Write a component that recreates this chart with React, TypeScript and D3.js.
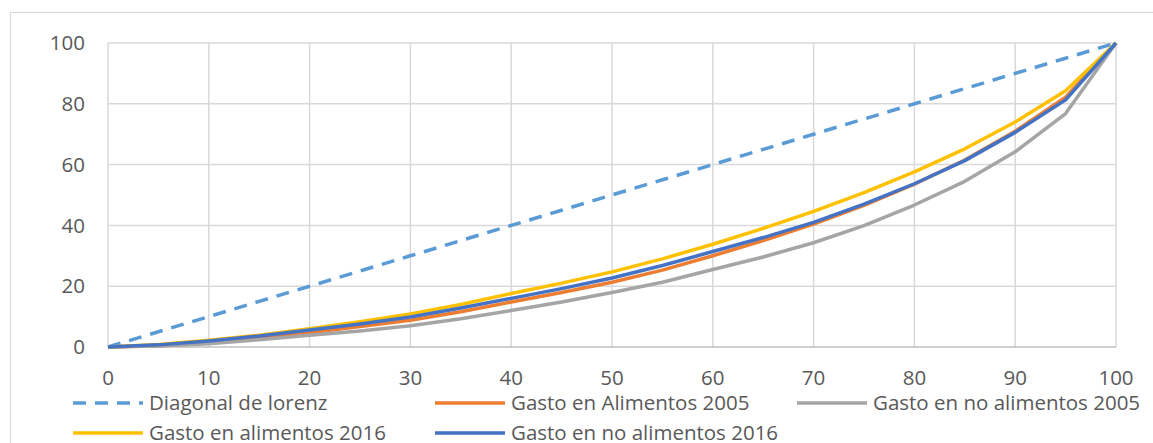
import * as d3 from "d3";

// cumulative population share (%)
const xs = [0, 5, 10, 15, 20, 25, 30, 35, 40, 45, 50, 55, 60, 65, 70, 75, 80, 85, 90, 95, 100];

const diagonal = [0, 5, 10, 15, 20, 25, 30, 35, 40, 45, 50, 55, 60, 65, 70, 75, 80, 85, 90, 95, 100];
const alimentos2005 = [0, 0.4, 1.3, 2.7, 4.7, 6.7, 8.8, 11.6, 14.8, 17.9, 21.3, 25.3, 30.0, 35.0, 40.4, 46.6, 53.6, 61.5, 71.0, 82.2, 100];
const noAlimentos2005 = [0, 0.3, 1.1, 2.4, 3.9, 5.3, 7.0, 9.3, 12.0, 14.8, 17.9, 21.3, 25.5, 29.6, 34.3, 39.9, 46.7, 54.5, 64.2, 76.8, 100];
const alimentos2016 = [0, 0.8, 2.2, 3.9, 6.0, 8.3, 10.9, 14.0, 17.6, 21.0, 24.7, 29.0, 33.8, 39.0, 44.6, 50.8, 57.6, 65.2, 74.0, 84.3, 100];
const noAlimentos2016 = [0, 0.7, 2.0, 3.6, 5.6, 7.6, 9.9, 12.8, 16.0, 19.2, 22.7, 26.8, 31.4, 36.0, 41.0, 47.0, 53.7, 61.3, 70.6, 81.3, 100];

const xTicks = [0, 10, 20, 30, 40, 50, 60, 70, 80, 90, 100];
const yTicks = [0, 20, 40, 60, 80, 100];

const series = [
  { name: "Diagonal de lorenz", values: diagonal, color: "#5B9BD5", dash: "13 9" },
  { name: "Gasto en Alimentos 2005", values: alimentos2005, color: "#ED7D31", dash: "" },
  { name: "Gasto en no alimentos 2005", values: noAlimentos2005, color: "#A5A5A5", dash: "" },
  { name: "Gasto en alimentos 2016", values: alimentos2016, color: "#FFC000", dash: "" },
  { name: "Gasto en no alimentos 2016", values: noAlimentos2016, color: "#4472C4", dash: "" },
];

const W = 1153;
const H = 443;
const FONT = "'Open Sans', 'Liberation Sans', sans-serif";
const TEXT = "#595959";
const FS = 20.5;

export default function App() {
  const x = d3.scaleLinear().domain([0, 100]).range([108, 1116]);
  const y = d3.scaleLinear().domain([0, 100]).range([347, 43]);

  const line = d3
    .line<number>()
    .x((_, i) => x(xs[i]))
    .y((d) => y(d));

  return (
    <svg
      width={W}
      height={H}
      style={{ position: "absolute", left: 0, top: 0, background: "#fff" }}
      fontFamily={FONT}
    >
      <rect x={10.5} y={12.5} width={W + 10} height={H + 10} fill="#fff" stroke="#d9d9d9" strokeWidth={1} />

      {/* grid */}
      {xTicks.map((t) => (
        <line key={"gx" + t} x1={x(t)} x2={x(t)} y1={y(100)} y2={y(0)} stroke="#d9d9d9" strokeWidth={1.5} />
      ))}
      {yTicks.map((t) => (
        <line
          key={"gy" + t}
          x1={x(0)}
          x2={x(100)}
          y1={y(t)}
          y2={y(t)}
          stroke={t === 0 ? "#bfbfbf" : "#d9d9d9"}
          strokeWidth={1.5}
        />
      ))}

      {/* tick labels */}
      {yTicks.map((t) => (
        <text key={"ty" + t} x={85} y={y(t)} dy="0.35em" textAnchor="end" fontSize={FS} fill={TEXT}>
          {t}
        </text>
      ))}
      {xTicks.map((t) => (
        <text key={"tx" + t} x={x(t)} y={378} dy="0.35em" textAnchor="middle" fontSize={FS} fill={TEXT}>
          {t}
        </text>
      ))}

      {/* series */}
      {series.map((s) => (
        <path
          key={s.name}
          d={line(s.values) ?? ""}
          fill="none"
          stroke={s.color}
          strokeWidth={3.5}
          strokeDasharray={s.dash || undefined}
          strokeLinejoin="round"
        />
      ))}

      {/* legend */}
      {series.map((s, i) => {
        const col = i % 3;
        const row = Math.floor(i / 3);
        const lx = 73 + col * 362;
        const ly = 403 + row * 30;
        return (
          <g key={"lg" + s.name}>
            <line x1={lx} x2={lx + 70} y1={ly} y2={ly} stroke={s.color} strokeWidth={3.5} strokeDasharray={s.dash || undefined} />
            <text x={lx + 76} y={ly} dy="0.35em" fontSize={FS} fill={TEXT}>
              {s.name}
            </text>
          </g>
        );
      })}
    </svg>
  );
}
